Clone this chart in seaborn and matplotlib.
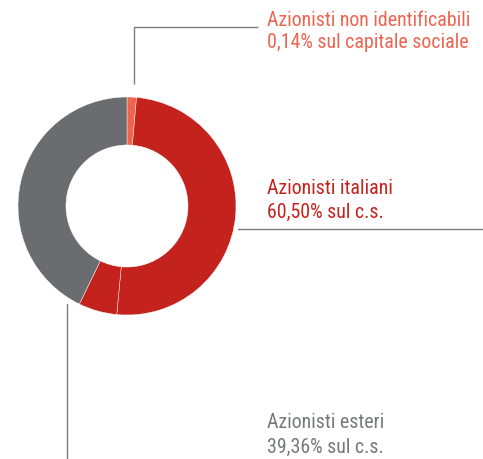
import matplotlib
matplotlib.use("Agg")
import matplotlib.pyplot as plt
import seaborn as sns
from matplotlib import font_manager

# ---- data (visual shares of the ring) ----
slices = ["Azionisti non identificabili", "Azionisti italiani (a)", "Azionisti italiani (b)", "Azionisti esteri"]
shares = [1.4, 50.1, 5.7, 42.8]
slice_colors = ["#ee654b", "#c4221c", "#c4221c", "#6b6c70"]

label_lines = [
    ("Azionisti non identificabili", "0,14% sul capitale sociale"),
    ("Azionisti italiani", "60,50% sul c.s."),
    ("Azionisti esteri", "39,36% sul c.s."),
]
label_colors = ["#ef6450", "#c4221c", "#77787b"]

sns.set_theme(style="white")
names = {f.name for f in font_manager.fontManager.ttflist}
fam = next((n for n in ["Roboto Condensed", "Archivo Narrow", "PT Sans Narrow"] if n in names), "DejaVu Sans")
plt.rcParams["font.family"] = [fam, "DejaVu Sans"]

W, H = 483, 459
fig = plt.figure(figsize=(W / 100, H / 100), dpi=100)
fig.patch.set_facecolor("white")

# overlay axes in pixel coordinates
ov = fig.add_axes([0, 0, 1, 1])
ov.set_xlim(0, W)
ov.set_ylim(H, 0)
ov.axis("off")

# donut axes
cx, cy, r = 127, 206, 109
pie_ax = fig.add_axes([(cx - r) / W, (H - cy - r) / H, 2 * r / W, 2 * r / H])
pie_ax.pie(shares, colors=slice_colors, startangle=90, counterclock=False,
           radius=1.0, wedgeprops=dict(width=0.44, edgecolor="white", linewidth=0.3))
pie_ax.set_xlim(-1, 1)
pie_ax.set_ylim(-1, 1)
pie_ax.set_aspect("equal")
pie_ax.axis("off")

lc = "#7d7d80"
lw = 1.0
# top leader
ov.plot([134, 134, 258], [84, 27, 27], color=lc, lw=lw, solid_capstyle="butt")
# middle leader
ov.plot([238, 483], [229, 229], color=lc, lw=lw)
# bottom leader
ov.plot([67, 67], [304, 459], color=lc, lw=lw)

fs = 14.3
tx = 267
pos = [(20, 43), (188, 212), (423, 447)]
for (l1, l2), col, (y1, y2) in zip(label_lines, label_colors, pos):
    ov.text(tx, y1, l1, color=col, fontsize=fs, va="center", ha="left")
    ov.text(tx, y2, l2, color=col, fontsize=fs, va="center", ha="left")

fig.savefig("out.png", dpi=100, facecolor="white")
